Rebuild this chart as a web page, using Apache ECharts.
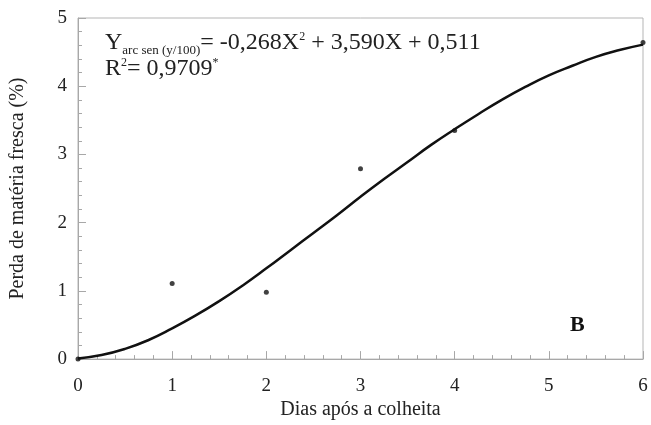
<!DOCTYPE html>
<html><head><meta charset="utf-8">
<script src="https://cdn.jsdelivr.net/npm/echarts@6/dist/echarts.min.js"></script>
<style>html,body{margin:0;padding:0;background:#fff}#c{width:651px;height:425px}</style>
</head><body><div id="c"></div>
<script>
var obsX = [0, 1, 2, 3, 4, 6];
var obsY = [0, 1.11, 0.98, 2.79, 3.35, 4.64];
var fitX = [0, 0.25, 0.5, 0.75, 1, 1.25, 1.5, 1.75, 2, 2.25, 2.5, 2.75, 3, 3.25, 3.5, 3.75, 4, 4.25, 4.5, 4.75, 5, 5.25, 5.5, 5.75, 6];
var fitY = [0.01, 0.06, 0.15, 0.28, 0.45, 0.64, 0.85, 1.08, 1.33, 1.59, 1.85, 2.11, 2.38, 2.64, 2.89, 3.14, 3.37, 3.59, 3.80, 3.99, 4.16, 4.30, 4.43, 4.53, 4.61];
var xTicks = [0, 1, 2, 3, 4, 5, 6];
var yTicks = [0, 1, 2, 3, 4, 5];

var font = '"Liberation Serif", "Times New Roman", serif';
var chart = echarts.init(document.getElementById('c'));
function pairs(a, b){ return a.map(function(v,i){ return [v, b[i]]; }); }
var axisCommon = {
  axisLine: {show: true, lineStyle: {color: '#a8a8a8', width: 1}},
  axisTick: {show: true, inside: true, length: 8, lineStyle: {color: '#a8a8a8'}},
  minorTick: {show: true, splitNumber: 5, length: 4, lineStyle: {color: '#a8a8a8'}},
  splitLine: {show: false},
  axisLabel: {color: '#222', fontFamily: font, fontSize: 19},
  nameTextStyle: {color: '#222', fontFamily: font, fontSize: 20}
};
chart.setOption({
  animation: false,
  grid: {left: 77, right: 8, top: 18, bottom: 64, show: true, borderColor: '#b5b5b5', borderWidth: 1},
  xAxis: Object.assign({}, axisCommon, {
    type: 'value', min: xTicks[0], max: xTicks[xTicks.length-1], interval: 1,
    name: 'Dias após a colheita', nameLocation: 'middle', nameGap: 40,
    axisLabel: Object.assign({}, axisCommon.axisLabel, {margin: 17})
  }),
  yAxis: Object.assign({}, axisCommon, {
    type: 'value', min: yTicks[0], max: yTicks[yTicks.length-1], interval: 1,
    name: 'Perda de matéria fresca (%)', nameLocation: 'middle', nameGap: 50,
    axisLabel: Object.assign({}, axisCommon.axisLabel, {margin: 11})
  }),
  graphic: [
    {type: 'text', left: 105, top: 31, style: {
      rich: {
        b: {fontFamily: font, fontSize: 24, fill: '#222'},
        s: {fontFamily: font, fontSize: 13, fill: '#222', padding: [16, 0, 0, 0]},
        p: {fontFamily: font, fontSize: 12, fill: '#222', padding: [0, 0, 12, 0]}
      },
      text: '{b|Y}{s|arc sen (y/100)}{b|= -0,268X}{p|2}{b| + 3,590X + 0,511}'
    }},
    {type: 'text', left: 105, top: 57, style: {
      rich: {
        b: {fontFamily: font, fontSize: 24, fill: '#222'},
        p: {fontFamily: font, fontSize: 12, fill: '#222', padding: [0, 0, 12, 0]}
      },
      text: '{b|R}{p|2}{b|= 0,9709}{p|*}'
    }},
    {type: 'text', left: 570, top: 314, style: {text: 'B', fontFamily: font, fontSize: 22, fontWeight: 'bold', fill: '#111'}}
  ],
  series: [
    {type: 'line', data: pairs(fitX, fitY), smooth: true, showSymbol: false,
     lineStyle: {color: '#111', width: 2.5}, z: 2},
    {type: 'scatter', data: pairs(obsX, obsY), symbolSize: 5,
     itemStyle: {color: '#111'}, z: 3}
  ]
});
</script></body></html>
